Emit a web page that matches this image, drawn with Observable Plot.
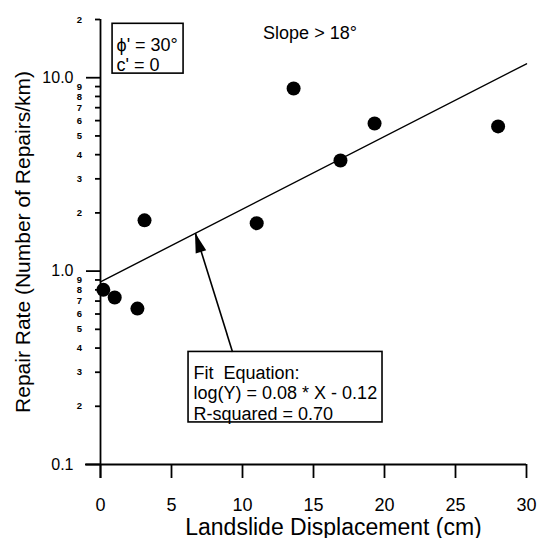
<!DOCTYPE html>
<html><head><meta charset="utf-8">
<script src="https://cdn.jsdelivr.net/npm/d3@7"></script>
<script src="https://cdn.jsdelivr.net/npm/@observablehq/plot@0.6"></script>
<style>body{margin:0;background:#fff;}</style>
</head><body><div id="chart"></div>
<script>
// Data
const displacement = [0.2, 1.0, 2.6, 3.1, 11.0, 13.6, 16.9, 19.3, 28.0];
const repairRate   = [0.80, 0.73, 0.64, 1.83, 1.77, 8.8, 3.73, 5.8, 5.6];
const fitX = [0, 30];
const fitY = [0.88, 11.8];
const xTicks = [0, 5, 10, 15, 20, 25, 30];
const yMajorTicks = [0.1, 1, 10];
const yMajorLabels = ["0.1", "1.0", "10.0"];
const yMinorTicks = [0.2,0.3,0.4,0.5,0.6,0.7,0.8,0.9,2,3,4,5,6,7,8,9,20];
const yMinorLabels = ["2","3","4","5","6","7","8","9","2","3","4","5","6","7","8","9","2"];
const xTitle = "Landslide Displacement (cm)";
const yTitle = "Repair Rate (Number of Repairs/km)";
const soilText = "ϕ' = 30°\nc' = 0";
const slopeText = "Slope > 18°";
const fitText = "Fit  Equation:\nlog(Y) = 0.08 * X - 0.12\nR-squared = 0.70";
// annotation anchors (data units)
const arrowStart = {x: 9.3, y: 0.382};
const arrowEnd = {x: 6.69, y: 1.57};
const soilBox = {x1: 0.85, x2: 5.85, y1: 10.5, y2: 19.0};
const slopePos = {x: 11.45, y: 17.0};
const fitBox = {x1: 6.2, x2: 19.86, y1: 0.165, y2: 0.382};

const points = displacement.map((d, i) => ({x: d, y: repairRate[i]}));
const fit = fitX.map((d, i) => ({x: d, y: fitY[i]}));
const font = "Liberation Sans, Arial, Helvetica, sans-serif";

function arrowHead(index, scales) {
  const tx = scales.x(arrowEnd.x), ty = scales.y(arrowEnd.y);
  const sx = scales.x(arrowStart.x), sy = scales.y(arrowStart.y);
  const ang = Math.atan2(ty - sy, tx - sx);
  const L = 20, W = 5.5;
  const bx = tx - L * Math.cos(ang), by = ty - L * Math.sin(ang);
  const px = -Math.sin(ang) * W, py = Math.cos(ang) * W;
  const path = document.createElementNS("http://www.w3.org/2000/svg", "path");
  path.setAttribute("d", `M${tx},${ty}L${bx + px},${by + py}L${bx - px},${by - py}Z`);
  path.setAttribute("fill", "#000");
  return path;
}

const chart = Plot.plot({
  width: 537, height: 538,
  marginLeft: 100, marginRight: 11, marginTop: 19, marginBottom: 74,
  style: {fontFamily: font, color: "#000", background: "#fff"},
  x: {domain: [0, 30]},
  y: {type: "log", domain: [0.1, 20]},
  marks: [
    Plot.axisX(xTicks, {tickSize: 14, tickPadding: 20, fontSize: 18, strokeWidth: 1.8, tickFormat: d => String(d), label: null}),
    Plot.axisY(yMajorTicks, {tickSize: 14, tickPadding: 13, fontSize: 16, strokeWidth: 1.8, tickFormat: d => yMajorLabels[yMajorTicks.indexOf(d)], label: null}),
    Plot.axisY(yMinorTicks, {tickSize: 5, strokeWidth: 1.8, text: null, label: null}),
    Plot.text(yMinorTicks, {y: d => d, text: (d, i) => yMinorLabels[i], frameAnchor: "left", textAnchor: "middle", dx: -21, fontSize: 9.5, fontWeight: "bold"}),
    Plot.ruleY([0.1], {insetLeft: -15, strokeWidth: 1.8}),
    Plot.ruleX([0], {insetBottom: -14, strokeWidth: 1.8}),
    Plot.line(fit, {x: "x", y: "y", stroke: "#000", strokeWidth: 1.4}),
    Plot.dot(points, {x: "x", y: "y", r: 7, fill: "#000"}),
    Plot.rect([soilBox], {x1: "x1", x2: "x2", y1: "y1", y2: "y2", fill: "none", stroke: "#000", strokeWidth: 1.6}),
    Plot.text([soilText], {x: soilBox.x1, y: soilBox.y2, text: d => d, textAnchor: "start", lineAnchor: "top", dx: 4, dy: 12, fontSize: 18, lineHeight: 1.15}),
    Plot.text([slopeText], {x: slopePos.x, y: slopePos.y, text: d => d, textAnchor: "start", lineAnchor: "middle", fontSize: 18}),
    Plot.rect([fitBox], {x1: "x1", x2: "x2", y1: "y1", y2: "y2", fill: "#fff", stroke: "#000", strokeWidth: 1.6}),
    Plot.text([fitText], {x: fitBox.x1, y: fitBox.y2, text: d => d, textAnchor: "start", lineAnchor: "top", dx: 5, dy: 12, fontSize: 18, lineHeight: 1.14}),
    Plot.link([{x1: arrowStart.x, y1: arrowStart.y, x2: arrowEnd.x, y2: arrowEnd.y}], {x1: "x1", y1: "y1", x2: "x2", y2: "y2", strokeWidth: 1.6}),
    arrowHead,
    Plot.text([yTitle], {frameAnchor: "left", textAnchor: "middle", lineAnchor: "middle", rotate: -90, dx: -77, fontSize: 21, text: d => d}),
    Plot.text([xTitle], {frameAnchor: "bottom", textAnchor: "middle", lineAnchor: "bottom", dx: 20, dy: 70, fontSize: 23, text: d => d})
  ]
});
document.getElementById("chart").append(chart);
</script>
</body></html>
